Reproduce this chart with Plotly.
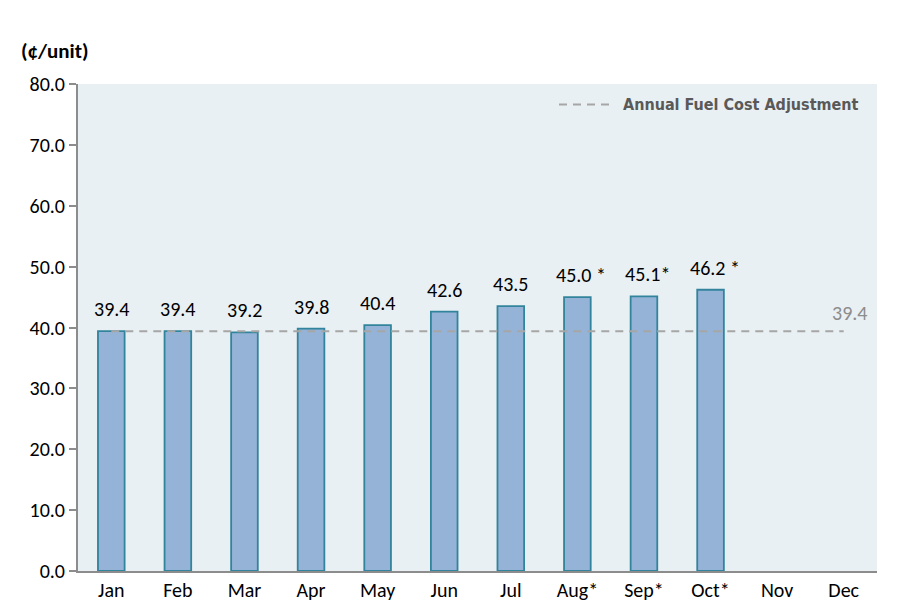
import plotly.graph_objects as go

months = ["Jan", "Feb", "Mar", "Apr", "May", "Jun", "Jul", "Aug", "Sep", "Oct", "Nov", "Dec"]
tick_labels = ["Jan", "Feb", "Mar", "Apr", "May", "Jun", "Jul",
               "Aug*", "Sep*", "Oct*", "Nov", "Dec"]
values = [39.4, 39.4, 39.2, 39.8, 40.4, 42.6, 43.5, 45.0, 45.1, 46.2, None, None]
value_labels = ["39.4", "39.4", "39.2", "39.8", "40.4", "42.6", "43.5",
                "45.0 *", "45.1*", "46.2 *", "", ""]
adjustment = 39.4
adjustment_label = "39.4"
y_title = "(¢/unit)"
legend_name = "Annual Fuel Cost Adjustment"

FONT = "Carlito, Calibri, Lato, sans-serif"
LEGEND_FONT = "Liberation Sans Narrow, Arial Narrow, DejaVu Sans Condensed, sans-serif"
OFF = 7  # page offset compensation

fig = go.Figure()
fig.add_trace(go.Bar(
    x=months, y=values,
    marker=dict(color="#95B3D7", line=dict(color="#31849B", width=1.8)),
    width=0.4, showlegend=False, hoverinfo="skip",
))
fig.add_trace(go.Scatter(
    x=months, y=[adjustment] * len(months), mode="lines",
    name=legend_name, showlegend=False, hoverinfo="skip",
    line=dict(color="#A6A6A6", width=2, dash="8px,6px"),
))

for m, v, lab in zip(months, values, value_labels):
    if v is None:
        continue
    fig.add_annotation(
        x=m, y=v, text=lab, showarrow=False, xanchor="center", yanchor="bottom",
        yshift=8, xshift=(4 if "*" in lab else 0),
        font=dict(family=FONT, size=20, color="#000000"),
    )

fig.add_annotation(
    x=months[-1], y=adjustment, text=adjustment_label, showarrow=False,
    xanchor="center", yanchor="bottom", xshift=6, yshift=4,
    font=dict(family=FONT, size=20, color="#8C8C8C"),
)
fig.add_annotation(
    xref="paper", yref="paper", x=-0.074, y=1.068, text="<b>" + y_title + "</b>",
    showarrow=False, xanchor="left", yanchor="middle",
    font=dict(family=FONT, size=21, color="#000000"),
)

# legend drawn as a line sample + label
fig.add_shape(
    type="line", xref="paper", yref="paper",
    x0=0.602, x1=0.668, y0=0.958, y1=0.958,
    line=dict(color="#A6A6A6", width=2, dash="8px,6px"),
)
fig.add_annotation(
    xref="paper", yref="paper", x=0.98, y=0.958, text="<b>" + legend_name + "</b>",
    showarrow=False, xanchor="right", yanchor="middle",
    font=dict(family=LEGEND_FONT, size=16, color="#595959"),
)

fig.update_layout(
    width=906, height=614,
    margin=dict(l=77 - OFF, r=30 + OFF, t=83 - OFF, b=44 + OFF),
    paper_bgcolor="#FFFFFF", plot_bgcolor="#E9F0F3",
    showlegend=False,
    xaxis=dict(
        tickmode="array", tickvals=months, ticktext=tick_labels,
        showline=True, linecolor="#8C8C8C", linewidth=2,
        ticks="", showgrid=False,
        tickfont=dict(family=FONT, size=20, color="#000000"),
    ),
    yaxis=dict(
        range=[0, 80], dtick=10, tickformat=".1f",
        showline=True, linecolor="#8C8C8C", linewidth=2,
        ticks="outside", ticklen=7, tickcolor="#8C8C8C", tickwidth=2,
        showgrid=False, zeroline=False,
        tickfont=dict(family=FONT, size=20, color="#000000"),
    ),
)

fig.write_html("out.html")
